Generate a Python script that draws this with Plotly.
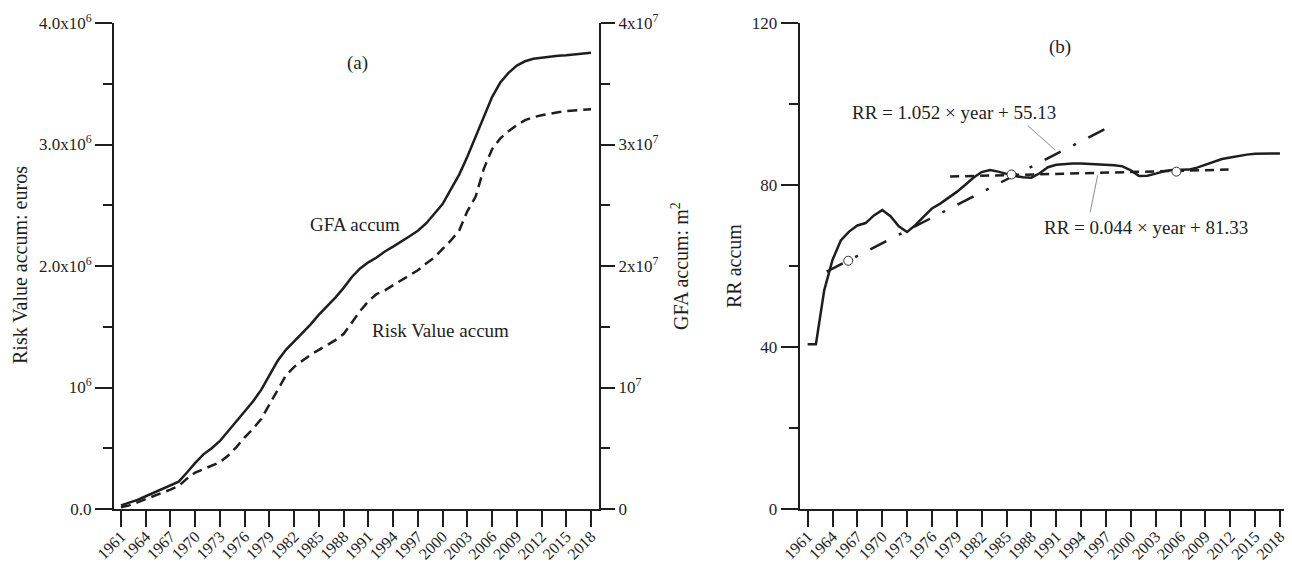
import plotly.graph_objects as go

# page body has an 8px margin; figure is sized to fit the 1292x569 window
OFF = 8
W, H = 1292 - OFF, 569 - OFF

# ---------------- data ----------------
years = list(range(1961, 2019))

gfa_accum_1e7 = [0.03, 0.05, 0.075, 0.105, 0.135, 0.17, 0.20, 0.225, 0.30, 0.38,
                 0.45, 0.50, 0.56, 0.64, 0.72, 0.80, 0.885, 0.98, 1.10, 1.22,
                 1.31, 1.38, 1.45, 1.52, 1.60, 1.67, 1.74, 1.82, 1.91, 1.98,
                 2.03, 2.07, 2.12, 2.16, 2.20, 2.245, 2.29, 2.35, 2.43, 2.51,
                 2.63, 2.75, 2.90, 3.06, 3.23, 3.39, 3.51, 3.59, 3.65, 3.685,
                 3.705, 3.715, 3.72, 3.73, 3.735, 3.74, 3.75, 3.755]

risk_value_1e6 = [0.015, 0.03, 0.055, 0.08, 0.105, 0.13, 0.16, 0.19, 0.25, 0.30,
                  0.33, 0.355, 0.385, 0.44, 0.51, 0.59, 0.66, 0.74, 0.86, 0.98,
                  1.10, 1.17, 1.22, 1.27, 1.31, 1.35, 1.39, 1.44, 1.54, 1.63,
                  1.71, 1.77, 1.80, 1.84, 1.88, 1.92, 1.965, 2.02, 2.07, 2.14,
                  2.21, 2.29, 2.45, 2.57, 2.80, 2.96, 3.05, 3.11, 3.16, 3.20,
                  3.225, 3.24, 3.255, 3.265, 3.275, 3.28, 3.285, 3.29]

rr_accum = [40.7, 40.7, 54.0, 61.5, 66.3, 68.5, 70.0, 70.6, 72.5, 73.8,
            72.3, 69.8, 68.4, 70.1, 72.2, 74.2, 75.4, 76.8, 78.3, 80.0,
            81.8, 83.2, 83.7, 83.3, 82.8, 82.2, 81.9, 81.8, 82.9, 84.4,
            85.0, 85.2, 85.3, 85.3, 85.2, 85.2, 85.0, 84.9, 84.6, 83.6,
            82.2, 82.3, 82.8, 83.4, 83.7, 83.7, 83.8, 84.3, 85.0, 85.7,
            86.4, 86.8, 87.2, 87.5, 87.7, 87.8, 87.8, 87.8]

fit1_years = [1963.3, 1998.1]
fit1_values = [58.6, 95.1]
fit2_years = [1978.2, 2011.8]
fit2_values = [82.1, 83.8]
cross_years = [1965.9, 1985.6, 2005.5]
cross_values = [61.3, 82.6, 83.3]

leader1_years = [1987.6, 1990.9]
leader1_values = [94.6, 88.6]
leader2_years = [1996.0, 1995.1]
leader2_values = [82.4, 73.3]

x_ticks = list(range(1961, 2019, 3))
left_tickvals = [0, 1e6, 2e6, 3e6, 4e6]
left_ticktext = ["0.0", "10<sup>6</sup>", "2.0x10<sup>6</sup>", "3.0x10<sup>6</sup>", "4.0x10<sup>6</sup>"]
left_minor = [0.5e6, 1.5e6, 2.5e6, 3.5e6]
right_tickvals = [0, 1e7, 2e7, 3e7, 4e7]
right_ticktext = ["0", "10<sup>7</sup>", "2x10<sup>7</sup>", "3x10<sup>7</sup>", "4x10<sup>7</sup>"]
right_minor = [0.5e7, 1.5e7, 2.5e7, 3.5e7]
rr_tickvals = [0, 40, 80, 120]
rr_minor = [20, 60, 100]

# ---------------- style ----------------
INK = "#1e1e1e"
FONT = "Liberation Serif"


def px(x):
    return (x - OFF) / W


def py(y):
    return 1 - (y - OFF) / H


fig = go.Figure()

fig.add_trace(go.Scatter(x=years, y=[v * 1e7 for v in gfa_accum_1e7], mode="lines",
                         line=dict(color=INK, width=2.5), xaxis="x", yaxis="y2",
                         showlegend=False))
fig.add_trace(go.Scatter(x=years, y=[v * 1e6 for v in risk_value_1e6], mode="lines",
                         line=dict(color=INK, width=2.5, dash="10px,6px"), xaxis="x", yaxis="y",
                         showlegend=False))

fig.add_trace(go.Scatter(x=leader1_years, y=leader1_values, mode="lines",
                         line=dict(color="#808080", width=0.9), xaxis="x2", yaxis="y3",
                         showlegend=False))
fig.add_trace(go.Scatter(x=leader2_years, y=leader2_values, mode="lines",
                         line=dict(color="#808080", width=0.9), xaxis="x2", yaxis="y3",
                         showlegend=False))
fig.add_trace(go.Scatter(x=years, y=rr_accum, mode="lines",
                         line=dict(color=INK, width=2.5), xaxis="x2", yaxis="y3",
                         showlegend=False))
fig.add_trace(go.Scatter(x=fit1_years, y=fit1_values, mode="lines",
                         line=dict(color=INK, width=2.5, dash="18px,14px,3px,14px"),
                         xaxis="x2", yaxis="y3", showlegend=False))
fig.add_trace(go.Scatter(x=fit2_years, y=fit2_values, mode="lines",
                         line=dict(color=INK, width=2.5, dash="9px,6px"),
                         xaxis="x2", yaxis="y3", showlegend=False))
fig.add_trace(go.Scatter(x=cross_years, y=cross_values, mode="markers",
                         marker=dict(symbol="circle", size=9, color="white",
                                     line=dict(color="#333333", width=1)),
                         xaxis="x2", yaxis="y3", showlegend=False))

ydom = [py(509), py(23)]
axis_common = dict(showline=True, linecolor=INK, linewidth=2, ticks="outside",
                   tickcolor=INK, tickwidth=2, showgrid=False, zeroline=False,
                   automargin=False,
                   tickfont=dict(family=FONT, size=17, color=INK))
xaxis_common = {**axis_common, "tickfont": dict(family=FONT, size=16, color=INK)}

fig.update_layout(
    width=W, height=H,
    margin=dict(l=0, r=0, t=0, b=0, pad=0, autoexpand=False),
    paper_bgcolor="white", plot_bgcolor="white",
    showlegend=False,
    xaxis=dict(domain=[px(114), px(599)], range=[1960.15, 2018.97], anchor="y",
               tickmode="array", tickvals=x_ticks, tickangle=-45, ticklen=16,
               ticklabelstandoff=-6, **xaxis_common),
    yaxis=dict(domain=ydom, range=[0, 4e6], anchor="x", tickmode="array",
               tickvals=left_tickvals, ticktext=left_ticktext, ticklen=17,
               minor=dict(tickmode="array", tickvals=left_minor, ticklen=9,
                          tickwidth=2, tickcolor=INK, ticks="outside"),
               **axis_common),
    yaxis2=dict(range=[0, 4e7], anchor="x", overlaying="y", side="right",
                tickmode="array", tickvals=right_tickvals, ticktext=right_ticktext,
                ticklen=14,
                minor=dict(tickmode="array", tickvals=right_minor, ticklen=9,
                           tickwidth=2, tickcolor=INK, ticks="outside"),
                **axis_common),
    xaxis2=dict(domain=[px(799.6), px(1288)], range=[1960.03, 2018.97], anchor="y3",
                tickmode="array", tickvals=x_ticks, tickangle=-45, ticklen=16,
                ticklabelstandoff=-6, **xaxis_common),
    yaxis3=dict(domain=ydom, range=[0, 120], anchor="x2", tickmode="array",
                tickvals=rr_tickvals, ticklen=17,
                minor=dict(tickmode="array", tickvals=rr_minor, ticklen=9,
                           tickwidth=2, tickcolor=INK, ticks="outside"),
                **axis_common),
)


def note(text, x, y, size=19, angle=0):
    fig.add_annotation(text=text, x=px(x), y=py(y), xref="paper", yref="paper",
                       showarrow=False, xanchor="center", yanchor="middle",
                       textangle=angle, font=dict(family=FONT, size=size, color=INK))


note("(a)", 358, 63)
note("GFA accum", 355, 225)
note("Risk Value accum", 440, 330)
note("(b)", 1060, 47)
note("RR = 1.052 × year + 55.13", 954, 113)
note("RR = 0.044 × year + 81.33", 1146, 227)
note("Risk Value accum: euros", 20, 265, size=20, angle=-90)
note("GFA accum: m<sup>2</sup>", 680, 266, size=20, angle=-90)
note("RR accum", 734, 266, size=20, angle=-90)

fig.write_html("out.html")
